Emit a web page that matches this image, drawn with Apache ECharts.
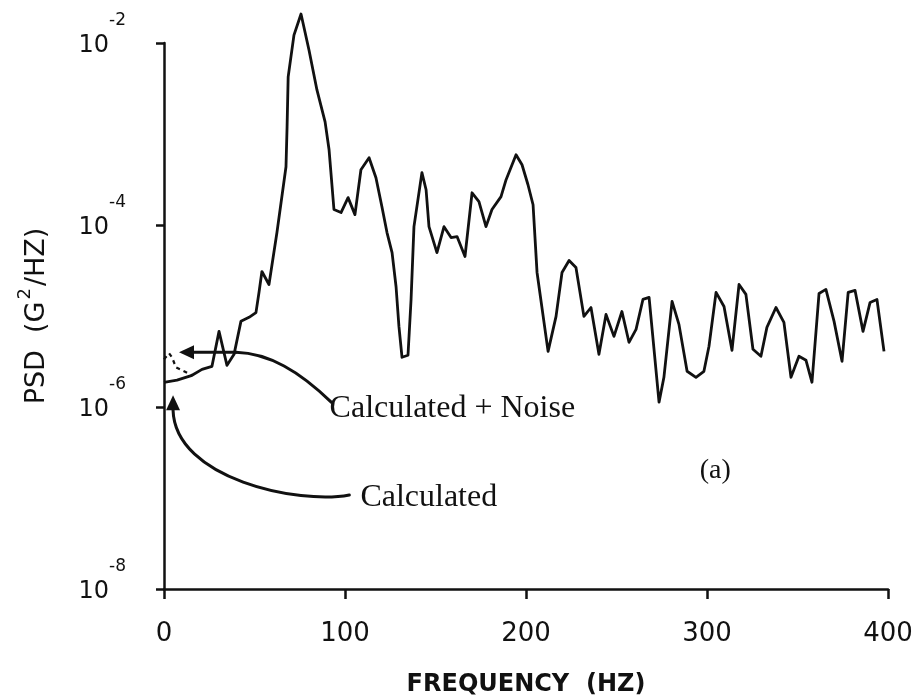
<!DOCTYPE html>
<html>
<head>
<meta charset="utf-8">
<script src="https://cdn.jsdelivr.net/npm/echarts@6/dist/echarts.min.js"></script>
<style>
  html, body { margin: 0; padding: 0; background: #ffffff; }
  #chart { width: 918px; height: 699px; }
</style>
</head>
<body>
<div id="chart"></div>
<script>
// Frequency grid of the PSD trace (Hz)
const freqHz = [
  0, 7.2, 15.5, 21, 26.5, 30.4, 34.8, 38.7, 42.5, 47, 50.8, 52.5, 54.1, 58, 62.4,
  67.4, 68, 68.6, 71.8, 75.7, 80.1, 84.5, 89, 91.2, 93.9, 97.8, 101.7, 105.5, 108.8,
  113.3, 117.1, 120.4, 123.2, 126, 128.2, 129.8, 131.5, 134.8, 136.5, 138.1, 142.5,
  144.8, 146.4, 150.8, 154.7, 158.6, 161.9, 166.3, 170.2, 174, 177.9, 181.2, 186.2,
  189, 194.5, 197.8, 201.1, 203.9, 206.1, 212.2, 216.6, 219.9, 223.8, 227.6, 232,
  235.9, 240.3, 244.2, 248.6, 253, 256.9, 260.8, 264.6, 268, 273.5, 276.2, 280.7,
  284.5, 289, 293.9, 298.3, 301.1, 305, 309.4, 313.8, 317.7, 321.5, 325.4, 329.8,
  333.1, 338.1, 342.5, 346.4, 350.8, 354.7, 358, 361.9, 365.7, 370.2, 374.6, 378,
  381.8, 386.2, 390.1, 393.9, 397.8
];

// Calculated PSD (G^2/Hz)
const psdCalculated = [
  1.87e-6, 1.97e-6, 2.23e-6, 2.59e-6, 2.80e-6, 6.78e-6, 2.87e-6, 3.79e-6, 8.73e-6, 9.66e-6,
  1.09e-5, 1.82e-5, 3.08e-5, 2.22e-5, 8.26e-5,
  4.37e-4, 1.20e-3, 4.24e-3, 1.22e-2, 2.08e-2, 8.38e-3, 3.05e-3, 1.36e-3, 6.71e-4, 1.48e-4,
  1.37e-4, 2.00e-4, 1.30e-4, 4.05e-4,
  5.48e-4, 3.31e-4, 1.59e-4, 8.26e-5, 4.98e-5, 2.11e-5, 7.69e-6, 3.52e-6, 3.70e-6, 1.52e-5,
  9.59e-5, 3.76e-4,
  2.44e-4, 9.59e-5, 4.98e-5, 9.59e-5, 7.28e-5, 7.46e-5, 4.51e-5, 2.26e-4, 1.81e-4, 9.59e-5,
  1.48e-4, 2.05e-4,
  3.15e-4, 5.92e-4, 4.59e-4, 2.77e-4, 1.67e-4, 3.01e-5, 4.09e-6, 9.91e-6, 3.01e-5, 4.07e-5,
  3.41e-5, 9.91e-6,
  1.24e-5, 3.79e-6, 1.04e-5, 5.97e-6, 1.12e-5, 5.14e-6, 7.13e-6, 1.52e-5, 1.60e-5, 1.13e-6,
  2.12e-6, 1.45e-5,
  8.09e-6, 2.47e-6, 2.12e-6, 2.47e-6, 4.65e-6, 1.82e-5, 1.27e-5, 4.20e-6, 2.22e-5, 1.73e-5,
  4.31e-6, 3.61e-6,
  7.50e-6, 1.24e-5, 8.51e-6, 2.12e-6, 3.61e-6, 3.26e-6, 1.87e-6, 1.77e-5, 1.96e-5, 8.73e-6,
  3.18e-6, 1.82e-5,
  1.91e-5, 6.78e-6, 1.41e-5, 1.52e-5, 4.09e-6
];

// Calculated + Noise, where it departs from the calculated trace at low frequency
const noiseFreqHz = [0, 2.8, 4.4, 6.6, 15.5];
const psdWithNoise = [3.34e-6, 3.89e-6, 3.52e-6, 2.73e-6, 2.23e-6];

// Axis ticks
const freqTicks = [0, 100, 200, 300, 400];
const psdTickExponents = [-8, -6, -4, -2];

// Annotation anchors in data units [Hz, G^2/Hz]
const noiseArrowPath = [[92.4, 1.13e-6], [74.7, 2.47e-6], [58.1, 3.89e-6], [39.8, 3.99e-6]];
const noiseArrowTip = [8.3, 3.99e-6];
const calcArrowPath = [[102.4, 1.08e-7], [74.7, 8.4e-8], [6.1, 1.61e-7]];
const calcArrowTip = [5.0, 1.35e-6];
const noiseLabelAt = [91.5, 9.6e-7];
const calcLabelAt = [108.5, 1.0e-7];
const panelLabelAt = [296, 2.0e-7];

const calcSeries = freqHz.map((f, i) => [f, psdCalculated[i]]);
const noiseSeries = noiseFreqHz.map((f, i) => [f, psdWithNoise[i]]);

const chart = echarts.init(document.getElementById('chart'), null, { renderer: 'canvas' });

const ink = '#111111';
const tickFont = 'DejaVu Sans';

chart.setOption({
  backgroundColor: '#ffffff',
  animation: false,
  grid: { left: 164, right: 30, top: 43, bottom: 110, containLabel: false, outerBoundsMode: 'none' },
  xAxis: {
    type: 'value',
    min: freqTicks[0],
    max: freqTicks[freqTicks.length - 1],
    interval: freqTicks[1] - freqTicks[0],
    name: 'FREQUENCY  (HZ)',
    nameLocation: 'middle',
    nameGap: 84,
    nameTextStyle: { fontFamily: tickFont, fontWeight: 'bold', fontSize: 24, color: ink },
    axisLine: { lineStyle: { color: ink, width: 2.5 } },
    axisTick: { inside: false, length: 10, lineStyle: { color: ink, width: 2.5 } },
    axisLabel: { margin: 32, fontFamily: tickFont, fontSize: 26, color: ink },
    splitLine: { show: false }
  },
  yAxis: {
    type: 'log',
    logBase: 100,
    min: Math.pow(10, psdTickExponents[0]),
    max: Math.pow(10, psdTickExponents[psdTickExponents.length - 1]),
    name: '{n|PSD  (G}{p|2}{n|/HZ)}',
    nameLocation: 'middle',
    nameRotate: 90,
    nameGap: 106,
    nameTextStyle: {
      rich: {
        n: { fontFamily: tickFont, fontSize: 27, color: ink },
        p: { fontFamily: tickFont, fontSize: 18, color: ink, padding: [0, 2, 24, 2] }
      }
    },
    axisLine: { lineStyle: { color: ink, width: 2.5 } },
    axisTick: { inside: false, length: 8, lineStyle: { color: ink, width: 2.5 } },
    axisLabel: {
      margin: 38,
      formatter: v => '{b|10}{s|' + Math.round(Math.log10(v)) + '}',
      rich: {
        b: { fontFamily: tickFont, fontSize: 24, color: ink, padding: [5, 0, 0, 0] },
        s: { fontFamily: tickFont, fontSize: 17, color: ink, padding: [0, 0, 44, 0] }
      }
    },
    splitLine: { show: false }
  },
  series: [
    {
      name: 'Calculated',
      type: 'line',
      data: calcSeries,
      showSymbol: false,
      symbol: 'none',
      clip: false,
      lineStyle: { color: ink, width: 2.8, join: 'round' },
      z: 3
    },
    {
      name: 'Calculated + Noise',
      type: 'line',
      data: noiseSeries,
      showSymbol: false,
      symbol: 'none',
      clip: false,
      lineStyle: { color: ink, width: 2.2, type: [4, 4] },
      z: 2
    }
  ]
});

// Arrows and labels, placed from data coordinates
function px(p) { return chart.convertToPixel({ gridIndex: 0 }, p); }

function drawAnnotations() {
  const n0 = px(noiseArrowPath[0]), n1 = px(noiseArrowPath[1]), n2 = px(noiseArrowPath[2]), n3 = px(noiseArrowPath[3]);
  const nt = px(noiseArrowTip);
  const c0 = px(calcArrowPath[0]), c1 = px(calcArrowPath[1]), c2 = px(calcArrowPath[2]);
  const ct = px(calcArrowTip);
  const head = 15, half = 7;
  const stroke = { stroke: ink, lineWidth: 3, fill: null, lineCap: 'round' };
  const serif = { fontFamily: 'Liberation Serif', fontSize: 32, fill: ink };
  const nl = px(noiseLabelAt), cl = px(calcLabelAt), al = px(panelLabelAt);

  chart.setOption({
    graphic: [
      { type: 'bezierCurve', shape: { x1: n0[0], y1: n0[1], cpx1: n1[0], cpy1: n1[1], cpx2: n2[0], cpy2: n2[1], x2: n3[0], y2: n3[1] }, style: stroke, z: 10 },
      { type: 'line', shape: { x1: n3[0], y1: n3[1], x2: nt[0] + head, y2: nt[1] }, style: stroke, z: 10 },
      { type: 'polygon', shape: { points: [[nt[0], nt[1]], [nt[0] + head, nt[1] - half], [nt[0] + head, nt[1] + half]] }, style: { fill: ink }, z: 10 },
      { type: 'bezierCurve', shape: { x1: c0[0], y1: c0[1], cpx1: c1[0], cpy1: c1[1], cpx2: c2[0], cpy2: c2[1], x2: ct[0], y2: ct[1] + head }, style: stroke, z: 10 },
      { type: 'polygon', shape: { points: [[ct[0], ct[1]], [ct[0] - half, ct[1] + head], [ct[0] + half, ct[1] + head]] }, style: { fill: ink }, z: 10 },
      { type: 'text', x: nl[0], y: nl[1], style: Object.assign({ text: 'Calculated + Noise', verticalAlign: 'middle' }, serif), z: 10 },
      { type: 'text', x: cl[0], y: cl[1], style: Object.assign({ text: 'Calculated', verticalAlign: 'middle' }, serif), z: 10 },
      { type: 'text', x: al[0], y: al[1], style: Object.assign({ text: '(a)', verticalAlign: 'middle' }, serif, { fontSize: 28 }), z: 10 }
    ]
  });
}
drawAnnotations();
</script>
</body>
</html>
